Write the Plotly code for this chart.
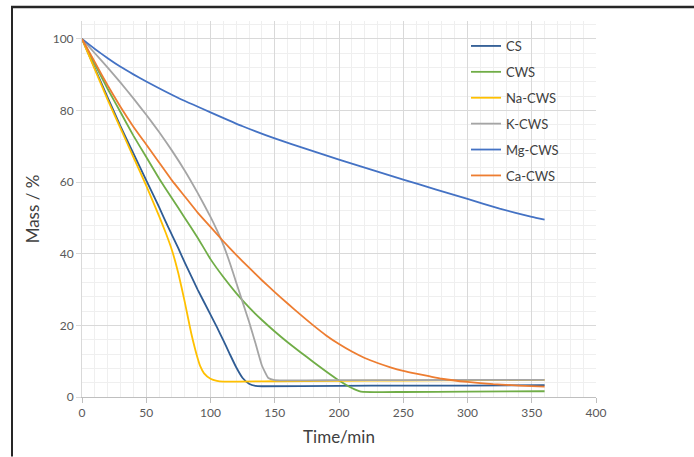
import plotly.graph_objects as go

# ---- data ----
cs_t = [0, 10, 20, 30, 40, 50, 60, 67, 75, 80, 90, 100, 105, 110, 115, 120, 125, 130, 135, 140, 200, 250, 300, 360]
cs_m = [100, 91.8, 83.6, 75.6, 68, 60.5, 53, 47.5, 41.5, 37.5, 30, 23, 19.5, 15.8, 12, 8.3, 5.3, 3.7, 3.1, 3.0, 3.1, 3.2, 3.2, 3.3]

cws_t = [0, 10, 20, 30, 40, 50, 60, 70, 80, 90, 100, 110, 120, 130, 140, 150, 160, 170, 180, 190, 200, 210, 217, 250, 300, 360]
cws_m = [100, 93, 86, 79.5, 73, 67, 61, 55.5, 50, 44.5, 38.5, 33.5, 29, 25, 21.5, 18.3, 15.3, 12.5, 9.8, 7.1, 4.6, 2.5, 1.5, 1.4, 1.5, 1.6]

na_t = [0, 10, 20, 30, 40, 50, 60, 65, 70, 75, 80, 85, 90, 92, 95, 100, 105, 110, 150, 200, 250, 300, 360]
na_m = [100, 91.5, 83, 75, 67, 59, 50.5, 46, 41, 34.5, 26.5, 17.8, 10.8, 8.6, 6.6, 5.1, 4.5, 4.3, 4.4, 4.5, 4.6, 4.7, 4.8]

k_t = [0, 10, 20, 30, 40, 50, 60, 70, 80, 90, 100, 105, 110, 115, 120, 125, 130, 135, 140, 145, 150, 200, 250, 300, 360]
k_m = [100, 96, 92, 87.8, 83.4, 78.8, 74, 68.8, 63.2, 57, 50.3, 46.6, 42.5, 37.5, 32, 26.5, 21, 15, 8.8, 5.3, 4.7, 4.7, 4.7, 4.8, 4.8]

mg_t = [0, 10, 20, 30, 40, 50, 75, 100, 125, 150, 175, 200, 225, 250, 275, 300, 325, 350, 360]
mg_m = [100, 97.2, 94.6, 92.2, 90.1, 88.1, 83.5, 79.5, 75.6, 72.2, 69.2, 66.3, 63.5, 60.7, 58.0, 55.3, 52.6, 50.3, 49.5]

ca_t = [0, 10, 20, 30, 40, 50, 60, 70, 80, 90, 100, 110, 120, 130, 140, 150, 160, 170, 180, 190, 200, 210, 220, 230, 240, 250, 260, 270, 280, 300, 320, 340, 360]
ca_m = [100, 93.5, 87, 81, 75.5, 70.5, 65.5, 60.5, 56, 51.5, 47.5, 43.5, 39.7, 36.1, 32.6, 29.3, 26.1, 23.0, 20.0, 17.2, 14.8, 12.7, 10.9, 9.5, 8.3, 7.3, 6.5, 5.8, 5.1, 4.2, 3.6, 3.2, 2.9]

series_names = ["CS", "CWS", "Na-CWS", "K-CWS", "Mg-CWS", "Ca-CWS"]
series_t = [cs_t, cws_t, na_t, k_t, mg_t, ca_t]
series_m = [cs_m, cws_m, na_m, k_m, mg_m, ca_m]
colors = ["#2F5C94", "#70AD47", "#FFC000", "#A5A5A5", "#4472C4", "#ED7D31"]

x_ticks = [0, 50, 100, 150, 200, 250, 300, 350, 400]
y_ticks = [0, 20, 40, 60, 80, 100]

fig = go.Figure()
for i, (name, t, m) in enumerate(zip(series_names, series_t, series_m)):
    fig.add_trace(go.Scatter(x=t, y=m, mode="lines", name=name, legendgroup=name,
                             line=dict(color=colors[i], width=1.8, shape="spline", smoothing=0.4)))

# plot area in pixels: x 82..596, y 21..397.5
L, R, T, B = 82, 596, 21, 397.5
W, H = 694, 457
def px(x):
    return (x - L) / (R - L)
def py(y):
    return (B - y) / (B - T)

fig.update_layout(
    width=W, height=H,
    margin=dict(l=L, r=W - R, t=T, b=H - B, autoexpand=False),
    paper_bgcolor="white", plot_bgcolor="white",
    font=dict(family="Lato, Open Sans, sans-serif", color="#595959", size=12),
    showlegend=True,
    legend=dict(x=px(466), y=py(31), xanchor="left", yanchor="top",
                font=dict(size=13, color="#404040"), tracegroupgap=6,
                bgcolor="rgba(0,0,0,0)", itemwidth=30),
    shapes=[
        dict(type="line", xref="paper", yref="paper", x0=px(11), x1=px(694), y0=py(7), y1=py(7),
             line=dict(color="#262626", width=2.5)),
        dict(type="line", xref="paper", yref="paper", x0=px(12), x1=px(12), y0=py(6), y1=py(457),
             line=dict(color="#262626", width=2)),
    ],
)

fig.update_xaxes(range=[0, 400], tickvals=x_ticks, ticktext=[str(v) for v in x_ticks],
                 showgrid=True, gridcolor="#d9d9d9", gridwidth=1,
                 minor=dict(dtick=10, showgrid=True, gridcolor="#efefef", gridwidth=1),
                 showline=True, linecolor="#bfbfbf", linewidth=1,
                 ticks="outside", ticklen=5, tickcolor="#bfbfbf", automargin=False,
                 zeroline=False, tickfont=dict(size=12, color="#595959"),
                 title=dict(text="Time/min", font=dict(size=17, color="#404040"), standoff=11))
fig.update_yaxes(range=[0, 105], tickvals=y_ticks, ticktext=[str(v) for v in y_ticks],
                 showgrid=True, gridcolor="#d9d9d9", gridwidth=1,
                 minor=dict(dtick=4, tick0=0, showgrid=True, gridcolor="#efefef", gridwidth=1),
                 showline=True, linecolor="#d9d9d9", linewidth=1,
                 ticks="outside", ticklen=5, tickcolor="#d9d9d9", automargin=False,
                 zeroline=False, tickfont=dict(size=12, color="#595959"),
                 title=dict(text="Mass / %", font=dict(size=17, color="#404040"), standoff=8))

fig.write_html("out.html", config={"displayModeBar": False},
               post_script="document.body.style.margin='0px';")
